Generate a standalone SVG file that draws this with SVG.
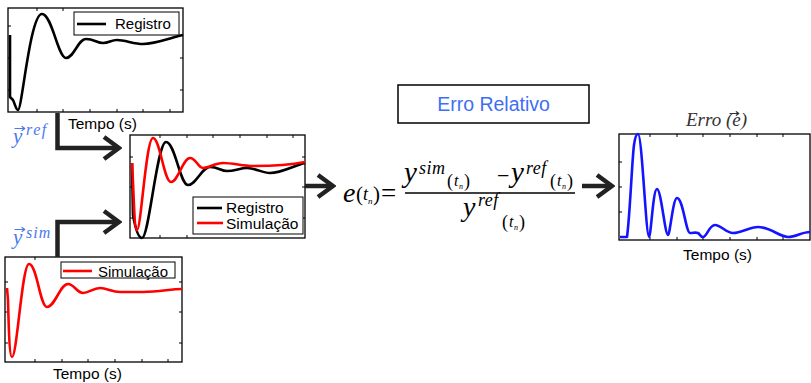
<svg xmlns="http://www.w3.org/2000/svg" width="811" height="383" viewBox="0 0 811 383">
<style>
.frame{fill:#fff;stroke:#000;stroke-width:1.3}
.tick{fill:none;stroke:#000;stroke-width:1}
.leg{fill:#fff;stroke:#000;stroke-width:1}
.k{fill:none;stroke:#000;stroke-width:2.6;stroke-linejoin:round}
.r{fill:none;stroke:#f00;stroke-width:2.6;stroke-linejoin:round}
.b{fill:none;stroke:#1414ff;stroke-width:2.6;stroke-linejoin:round}
.sans{font-family:"Liberation Sans",Arial,sans-serif;fill:#000}
.math{font-family:"Liberation Serif","Times New Roman",serif;font-style:italic;fill:#000}
.up{font-style:normal}
.blue{fill:#4a78f0}
.acc{fill:none;stroke-width:1.2;stroke-linecap:round;stroke-linejoin:round}
.conn{fill:none;stroke:#222;stroke-width:4.5}
</style>
<defs>
<marker id="chev" markerUnits="userSpaceOnUse" viewBox="0 0 20 26" refX="17" refY="13" markerWidth="20" markerHeight="26" orient="auto">
<path d="M2,2 L17,13 L2,24" fill="none" stroke="#222" stroke-width="4.5"/>
</marker>
</defs>
<rect width="811" height="383" fill="#fff"/>

<g id="plot-registro">
<rect class="frame" x="8" y="8" width="175" height="104"/>
<path class="tick" d="M37,8v3M63,8v3M37,112v-3M63,112v-3M90,112v-3M117,112v-3M143,112v-3M170,112v-3M8,26h3M8,58h3M8,90h3M183,58h-3M183,90h-3"/>
<path class="k" d="M10,35 L10,97 L13,100 C15,104 16,110 18,110 C22,110 30,14 42,14 C52,14 58,58 66,58 C74,58 78,39 86,39 C94,39 97,43 103,43 C109,43 111,40 117,40 C125,40 134,44 143,44 C155,44 170,38 183,35"/>
<rect class="leg" x="74" y="12" width="105" height="23"/>
<path class="k" d="M77,24 H106"/>
<text class="sans" x="115" y="29" font-size="15">Registro</text>
<text class="sans" x="68" y="129" font-size="15.5">Tempo (s)</text>
</g>

<g id="label-yref">
<text class="math blue" x="13" y="143" font-size="21">y</text>
<path class="acc" stroke="#4a78f0" d="M15,128.5 H24.5 M22,126.5 L24.8,128.5 L22,130.5"/>
<text class="math blue" x="26" y="135" font-size="16" letter-spacing="1.5">ref</text>
</g>

<g id="label-ysim">
<text class="math blue" x="13" y="244" font-size="21">y</text>
<path class="acc" stroke="#4a78f0" d="M15,229.5 H24.5 M22,227.5 L24.8,229.5 L22,231.5"/>
<text class="math blue" x="26" y="238" font-size="16" letter-spacing="1">sim</text>
</g>

<g id="plot-comparacao">
<rect class="frame" x="130" y="135" width="175" height="103"/>
<path class="tick" d="M160,135v3M187,135v3M213,135v3M240,135v3M267,135v3M293,135v3M160,238v-3M187,238v-3M130,157h3M130,187h3M130,218h3M305,157h-3M305,187h-3M305,218h-3"/>
<path class="k" d="M132,163 L133,215 C136,232 139,238 142,238 C149,238 157,142 166,142 C175,142 180,185 188,185 C196,185 202,167 210,167 C218,167 221,171 227,171 C235,171 240,168 247,168 C256,168 262,173 270,173 C282,173 295,165 305,163"/>
<path class="r" d="M132,163 C134,195 134,230 137,230 C141,230 146,138 153,138 C160,138 164,182 171,182 C178,182 183,158 190,158 C196,158 198,168 203,168 C209,168 215,163 223,163 C233,163 243,166 253,166 C265,166 290,165 305,162"/>
<rect class="leg" x="193" y="197" width="110" height="37"/>
<path class="k" d="M197,208 H222"/>
<path class="r" d="M197,223 H223"/>
<text class="sans" x="226" y="213" font-size="15.5">Registro</text>
<text class="sans" x="226" y="229" font-size="15.5">Simulação</text>
</g>

<g id="plot-simulacao">
<rect class="frame" x="5" y="257" width="177" height="105"/>
<path class="tick" d="M35,257v3M35,362v-3M62,362v-3M88,362v-3M115,362v-3M142,362v-3M168,362v-3M5,282h3M5,312h3M5,343h3M182,282h-3M182,312h-3M182,343h-3"/>
<path class="r" d="M7,288 L8,300 C9,340 10,357 12,357 C17,357 22,264 29,264 C37,264 40,307 47,307 C55,307 60,284 68,284 C74,284 77,293 83,293 C89,293 93,288 100,288 C107,288 112,292 120,292 C130,292 135,292 143,292 C160,292 170,289 182,289"/>
<rect class="leg" x="61" y="262" width="114" height="16"/>
<path class="r" d="M63,271 H92"/>
<text class="sans" x="98" y="276.5" font-size="15">Simulação</text>
<text class="sans" x="53" y="379" font-size="15.5">Tempo (s)</text>
</g>

<g id="erro-relativo">
<rect x="398" y="85" width="191" height="38" fill="#fff" stroke="#000" stroke-width="1.5"/>
<text class="sans" x="493.5" y="111" font-size="19.5" text-anchor="middle" style="fill:#3d6ff5">Erro Relativo</text>
</g>

<g id="equation">
<text class="math" x="343" y="202" font-size="28">e</text>
<text class="math up" x="356" y="201" font-size="21">(</text>
<text class="math" x="363" y="200" font-size="18">t</text>
<text class="math" x="368" y="204" font-size="9">n</text>
<text class="math up" x="373" y="201" font-size="21">)</text>
<text class="math up" x="381" y="202" font-size="27">=</text>
<path d="M405,193 H575" stroke="#000" stroke-width="1.3"/>
<text class="math" x="404" y="182" font-size="29">y</text>
<text class="math" x="419" y="174" font-size="18" letter-spacing="0.5">sim</text>
<text class="math up" x="447" y="187" font-size="18">(</text>
<text class="math" x="454" y="186" font-size="16">t</text>
<text class="math" x="459" y="189" font-size="8">n</text>
<text class="math up" x="464" y="187" font-size="18">)</text>
<text class="math up" x="497" y="183" font-size="22">−</text>
<text class="math" x="511" y="182" font-size="29">y</text>
<text class="math" x="526" y="174" font-size="18" letter-spacing="0.5">ref</text>
<text class="math up" x="550" y="187" font-size="18">(</text>
<text class="math" x="557" y="186" font-size="16">t</text>
<text class="math" x="562" y="189" font-size="8">n</text>
<text class="math up" x="567" y="187" font-size="18">)</text>
<text class="math" x="463" y="216" font-size="28">y</text>
<text class="math" x="478" y="206" font-size="18" letter-spacing="0.5">ref</text>
<text class="math up" x="502" y="228" font-size="18">(</text>
<text class="math" x="509" y="227" font-size="16">t</text>
<text class="math" x="514" y="230" font-size="8">n</text>
<text class="math up" x="519" y="228" font-size="18">)</text>
</g>

<g id="plot-erro">
<text class="math" x="686" y="126" font-size="19" style="fill:#333">Erro (<tspan>e</tspan>)</text>
<path class="acc" stroke="#333" d="M730,113.5 H738.5 M736.3,111.7 L738.8,113.5 L736.3,115.3"/>
<rect class="frame" x="619" y="134" width="191" height="106"/>
<path class="tick" d="M650,134v3M677,134v3M703,134v3M730,134v3M757,134v3M783,134v3M650,240v-3M677,240v-3M703,240v-3M730,240v-3M757,240v-3M783,240v-3M619,162h3M619,187h3M619,212h3"/>
<path class="b" d="M620,237 L627,237 C630,215 632,160 634,145 C635,138 636,134 638,134 C642,134 646,237 649,237 C651,237 653,189 657,189 C661,189 665,235 668,235 C670,235 673,198 677,198 C683,198 686,233 690,233 C694,233 695,232 698,233 C700,234 700,237 703,237 C707,237 709,225 715,225 C721,225 726,233 733,233 C742,233 749,227 758,227 C770,227 780,237 788,237 C796,237 802,232 810,232"/>
<text class="sans" x="717.5" y="260" font-size="15.5" text-anchor="middle">Tempo (s)</text>
</g>

<g id="connectors">
<path class="conn" d="M57.5,113 V148 H119" marker-end="url(#chev)"/>
<path class="conn" d="M57.5,257 V222 H119" marker-end="url(#chev)"/>
<path class="conn" d="M305,186 H333" marker-end="url(#chev)"/>
<path class="conn" d="M582,186 H612" marker-end="url(#chev)"/>
</g>
</svg>
